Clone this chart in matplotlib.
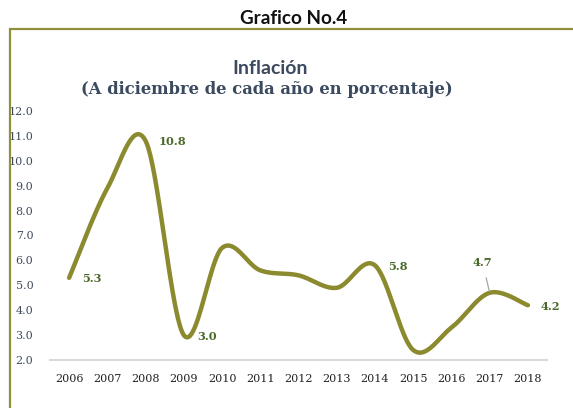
import matplotlib
matplotlib.use("Agg")
import matplotlib.pyplot as plt
import numpy as np
from matplotlib.patches import Rectangle

years = ["2006", "2007", "2008", "2009", "2010", "2011", "2012",
         "2013", "2014", "2015", "2016", "2017", "2018"]
inflation = [5.3, 8.9, 10.8, 3.0, 6.5, 5.6, 5.4, 4.9, 5.8, 2.4, 3.3, 4.7, 4.2]
labeled_years = ["2006", "2008", "2009", "2014", "2017", "2018"]
yticks = [2.0, 3.0, 4.0, 5.0, 6.0, 7.0, 8.0, 9.0, 10.0, 11.0, 12.0]

W, H = 573, 408
fig = plt.figure(figsize=(W / 100, H / 100), dpi=100)
fig.patch.set_facecolor("white")

# chart border (olive frame, cut off at right and bottom)
fig.patches.append(Rectangle((9.5 / W, -0.1), 1.2, (H - 29.5) / H + 0.1,
                             transform=fig.transFigure, fill=False,
                             edgecolor="#8f8f3e", linewidth=1.6))

ax = fig.add_axes([50 / W, (H - 360) / H, 497 / W, 249 / H])
x = np.arange(len(years))
ax.set_xlim(-0.5, len(years) - 0.5)
ax.set_ylim(2, 12)

# Excel-style smoothed line (Bezier through points, computed in pixel space)
pts = ax.transData.transform(np.column_stack([x, inflation]))
n = len(pts)
curve = []
for i in range(n - 1):
    p0 = pts[i]
    p3 = pts[i + 1]
    pm = pts[i - 1] if i > 0 else pts[i]
    pp = pts[i + 2] if i + 2 < n else pts[i + 1]
    c1 = p0 + (p3 - pm) / 6.0
    c2 = p3 - (pp - p0) / 6.0
    t = np.linspace(0, 1, 40)[:, None]
    seg = ((1 - t) ** 3) * p0 + 3 * ((1 - t) ** 2) * t * c1 + 3 * (1 - t) * t ** 2 * c2 + t ** 3 * p3
    curve.append(seg if i == 0 else seg[1:])
curve = np.vstack(curve)
curve_data = ax.transData.inverted().transform(curve)
ax.plot(curve_data[:, 0], curve_data[:, 1], color="#8b8a2f", linewidth=3.2,
        solid_capstyle="round", solid_joinstyle="round", zorder=3)

# data labels
lab_color = "#4b6a2c"
for yr in labeled_years:
    i = years.index(yr)
    v = inflation[i]
    if yr == "2017":
        ax.annotate(f"{v:.1f}", (i, v), xytext=(-7, 30), textcoords="offset pixels",
                    ha="center", va="center", fontsize=8.2, fontweight="bold",
                    family="DejaVu Serif", color=lab_color,
                    arrowprops=dict(arrowstyle="-", color="#a6a6a6", lw=0.9,
                                    shrinkA=5, shrinkB=1))
    else:
        ax.annotate(f"{v:.1f}", (i, v), xytext=(13, -1), textcoords="offset pixels",
                    ha="left", va="center", fontsize=8.2, fontweight="bold",
                    family="DejaVu Serif", color=lab_color)

ax.set_xticks(x)
ax.set_xticklabels(years, family="DejaVu Serif", fontsize=8, color="#222222")
ax.set_yticks(yticks)
ax.set_yticklabels([f"{v:.1f}" for v in yticks], family="DejaVu Serif",
                   fontsize=8, color="#3e4a5c")
ax.tick_params(axis="both", length=0)
ax.tick_params(axis="x", pad=10)
ax.tick_params(axis="y", pad=12)
for s in ["top", "right", "left"]:
    ax.spines[s].set_visible(False)
ax.spines["bottom"].set_color("#d9d9d9")
ax.spines["bottom"].set_linewidth(1.5)
ax.set_facecolor("none")

fig.text(293.5 / W, 1 - 18 / H, "Grafico No.4", ha="center", va="center",
         family="Lato", fontweight="bold", fontsize=13.6, color="#111111")
fig.text(270 / W, 1 - 68 / H, "Inflación", ha="center", va="center",
         family="Lato", fontweight="bold", fontsize=14, color="#3b4a5e")
fig.text(267 / W, 1 - 90 / H, "(A diciembre de cada año en porcentaje)",
         ha="center", va="center", family="DejaVu Serif", fontweight="bold",
         fontsize=11.75, color="#3b4a5e")

fig.savefig("out.png", dpi=100)
